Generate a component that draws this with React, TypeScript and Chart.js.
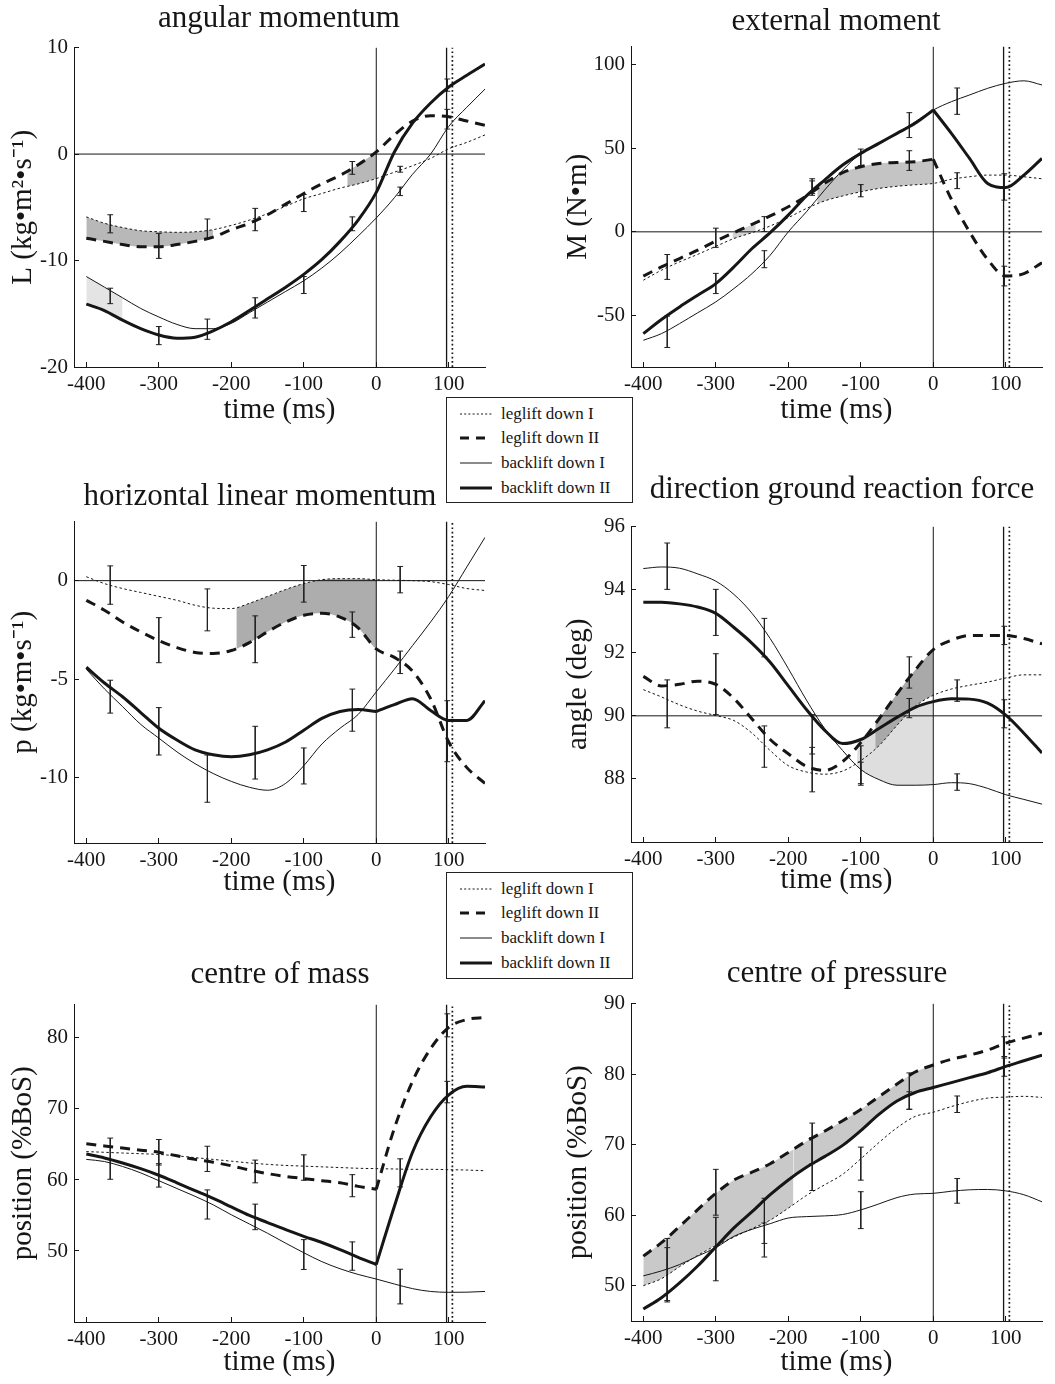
import React, { useEffect, useRef } from "react";
import { Chart, registerables } from "chart.js";

Chart.register(...registerables);

// ---------------- data ----------------
const TIME = [-400, -375, -350, -325, -300, -275, -250, -225, -200, -175, -150, -125, -100, -75, -50, -25, 0, 25, 50, 75, 100, 125, 150];
const X_TICKS = [-400, -300, -200, -100, 0, 100];
const X_MIN = -417;
const X_MAX = 150;
const ERR_TIME = [-367, -300, -233, -167, -100, -33, 33, 98];
const EVENT_TOUCH = 0;
const EVENT_SOLID = 97;
const EVENT_DOTTED = 105;
const LEGEND_LABELS = ["leglift down I", "leglift down II", "backlift down I", "backlift down II"];

// angular momentum
const P1_Y_TICKS = [-20, -10, 0, 10];
const P1_LEG_I = [-5.9, -6.5, -6.9, -7.2, -7.3, -7.35, -7.3, -7.1, -6.7, -6.2, -5.6, -4.9, -4.2, -3.7, -3.2, -2.8, -2.3, -1.7, -1.1, -0.4, 0.5, 1.1, 1.8];
const P1_LEG_II = [-7.9, -8.2, -8.5, -8.7, -8.7, -8.5, -8.2, -7.8, -7.1, -6.5, -5.7, -4.7, -3.7, -2.8, -2.0, -1.0, 0.2, 1.8, 3.1, 3.6, 3.5, 3.1, 2.7];
const P1_BACK_I = [-11.5, -12.5, -13.5, -14.5, -15.3, -16.0, -16.4, -16.4, -15.9, -14.9, -13.9, -12.9, -11.9, -10.7, -9.3, -7.7, -6.0, -4.1, -1.9, 0.0, 2.6, 4.4, 6.1];
const P1_BACK_II = [-14.1, -14.7, -15.6, -16.4, -17.0, -17.3, -17.2, -16.6, -15.75, -14.7, -13.6, -12.5, -11.3, -9.9, -8.2, -6.2, -3.6, 0.2, 2.9, 4.8, 6.3, 7.4, 8.45];
const P1_ERR_LEG_HI = [-5.7, -7.45, -6.1, -5.1, -3.8, -0.7, -1.15, 4.2];
const P1_ERR_LEG_LO = [-7.4, -9.8, -7.9, -7.2, -5.4, -1.9, -1.7, 2.35];
const P1_ERR_BACK_HI = [-12.6, -16.2, -15.5, -13.5, -11.5, -5.9, -3.1, 7.05];
const P1_ERR_BACK_LO = [-14.05, -17.9, -17.4, -15.4, -13.1, -7.2, -3.9, 5.9];
const P1_SHADE_A_X = [-400, -375, -350, -325, -300, -275, -250, -225];
const P1_SHADE_A_Y = [-5.9, -6.5, -6.9, -7.2, -7.3, -7.35, -7.3, -7.1];
const P1_SHADE_B_X = [-40, -25, 0];
const P1_SHADE_B_Y = [-1.6, -1.0, 0.2];
const P1_SHADE_C_X = [-400, -375, -350];
const P1_SHADE_C_Y = [-11.5, -12.5, -13.5];

// external moment
const P2_Y_TICKS = [-50, 0, 50, 100];
const P2_LEG_I = [-29, -23, -18, -13.5, -8.7, -4, -0.5, 3.5, 8.5, 14, 18.5, 21.5, 24, 26, 27.3, 28.2, 29, 31.5, 33, 34, 34, 33, 31.8];
const P2_LEG_II = [-26.5, -21, -16, -11, -5.5, -0.5, 4.5, 9.5, 15, 21.5, 29, 35.5, 39, 41, 41.5, 42, 43.5, 19.5, 0, -16.5, -26.5, -25, -18.5];
const P2_BACK_I = [-65, -61, -55, -48.5, -42, -34, -25, -14, 0, 12, 25, 37, 47, 53, 59, 66, 73, 78, 82, 86, 89, 90.5, 88];
const P2_BACK_II = [-61, -52.5, -45, -38, -31, -21, -10, -0.5, 10, 21.5, 31, 40, 47, 53, 59, 65, 73, 59, 44, 29, 26.5, 34, 44];
const P2_ERR_LEG_HI = [-13.6, 2.2, 9.1, 31.8, 28.3, 48.6, 35.4, -20.6];
const P2_ERR_LEG_LO = [-28.5, -9.3, 0.2, 21.9, 21, 36.8, 25.9, -32.4];
const P2_ERR_BACK_HI = [-50.5, -24.9, -11.3, 30.5, 49.6, 71.4, 86.2, 34.8];
const P2_ERR_BACK_LO = [-69.3, -37, -21.5, 23, 39.7, 56.5, 70.4, 19];
const P2_SHADE_A_X = [-277, -262, -245];
const P2_SHADE_A_Y = [-1.0, 2.0, 5.5];
const P2_SHADE_B_X = [-160, -150, -125, -100, -75, -50, -25, 0];
const P2_SHADE_B_Y = [26.5, 29, 35.5, 39, 41, 41.5, 42, 43.5];

// horizontal linear momentum
const P3_Y_TICKS = [-10, -5, 0];
const P3_LEG_I = [0.2, -0.15, -0.4, -0.6, -0.8, -1.0, -1.25, -1.4, -1.42, -1.15, -0.8, -0.45, -0.15, 0.05, 0.1, 0.1, 0.05, 0.02, 0.0, -0.05, -0.2, -0.4, -0.5];
const P3_LEG_II = [-1.0, -1.5, -2.1, -2.6, -3.05, -3.4, -3.65, -3.7, -3.55, -3.15, -2.6, -2.1, -1.76, -1.66, -1.85, -2.4, -3.47, -3.9, -4.6, -6.0, -8.2, -9.5, -10.3];
const P3_BACK_I = [-4.5, -5.5, -6.4, -7.3, -8.0, -8.7, -9.3, -9.8, -10.2, -10.5, -10.65, -10.3, -9.4, -8.3, -7.5, -6.8, -5.65, -4.5, -3.3, -2.1, -0.8, 0.7, 2.2];
const P3_BACK_II = [-4.4, -5.2, -5.9, -6.7, -7.5, -8.1, -8.6, -8.85, -8.95, -8.85, -8.6, -8.2, -7.6, -7.0, -6.65, -6.55, -6.65, -6.3, -6.0, -6.6, -7.1, -7.1, -6.1];
const P3_ERR_LEG_HI = [0.75, -1.88, -0.42, -1.79, 0.77, -1.59, 0.72, -6.1];
const P3_ERR_LEG_LO = [-1.2, -4.17, -2.55, -4.17, -1.09, -2.88, -0.62, -9.2];
const P3_ERR_BACK_HI = [-5.06, -6.45, -8.86, -7.4, -8.5, -5.51, -3.58, null];
const P3_ERR_BACK_LO = [-6.73, -8.86, -11.26, -10.08, -10.33, -7.65, -4.72, null];
const P3_SHADE_X = [-193, -175, -150, -125, -100, -75, -50, -25, 0];
const P3_SHADE_Y = [-1.4, -1.15, -0.8, -0.45, -0.15, 0.05, 0.1, 0.1, 0.05];

// direction ground reaction force
const P4_Y_TICKS = [88, 90, 92, 94, 96];
const P4_LEG_I = [90.83, 90.6, 90.35, 90.15, 90.01, 89.85, 89.45, 88.9, 88.42, 88.22, 88.15, 88.25, 88.58, 89.05, 89.7, 90.3, 90.65, 90.85, 90.97, 91.07, 91.2, 91.3, 91.3];
const P4_LEG_II = [91.25, 90.95, 91.0, 91.1, 91.0, 90.55, 89.9, 89.25, 88.8, 88.4, 88.27, 88.55, 89.15, 89.9, 90.7, 91.45, 92.1, 92.4, 92.55, 92.55, 92.55, 92.45, 92.28];
const P4_BACK_I = [94.67, 94.72, 94.68, 94.5, 94.27, 93.85, 93.25, 92.45, 91.5, 90.5, 89.6, 88.9, 88.3, 87.98, 87.8, 87.8, 87.82, 87.88, 87.85, 87.7, 87.5, 87.35, 87.2];
const P4_BACK_II = [93.6, 93.6, 93.55, 93.45, 93.25, 92.8, 92.3, 91.7, 90.95, 90.2, 89.55, 89.12, 89.25, 89.6, 89.95, 90.27, 90.45, 90.54, 90.53, 90.4, 90.02, 89.45, 88.82];
const P4_ERR_LEG_HI = [91.14, 91.97, 89.68, 89.0, 88.53, 91.87, 91.14, 92.84];
const P4_ERR_LEG_LO = [89.62, 90.04, 88.37, 87.59, 87.8, 90.88, 90.46, 92.26];
const P4_ERR_BACK_HI = [95.48, 94.01, 93.09, 90.04, 89.05, 90.55, 88.16, 90.51];
const P4_ERR_BACK_LO = [94.01, 92.55, 91.87, 88.79, 87.85, 89.94, 87.64, 89.62];
const P4_SHADE_LIGHT_X = [-105, -100, -75, -50, -25, 0];
const P4_SHADE_LIGHT_Y = [89.22, 89.25, 89.6, 89.95, 90.27, 90.45];
const P4_SHADE_DARK_X = [-80, -75, -50, -25, 0];
const P4_SHADE_DARK_Y = [89.75, 89.9, 90.7, 91.45, 92.1];

// centre of mass
const P5_Y_TICKS = [50, 60, 70, 80];
const P5_LEG_I = [64.0, 63.9, 63.8, 63.7, 63.6, 63.4, 63.15, 62.9, 62.65, 62.4, 62.2, 62.05, 61.95, 61.85, 61.75, 61.65, 61.6, 61.55, 61.5, 61.5, 61.45, 61.4, 61.3];
const P5_LEG_II = [65.1, 64.8, 64.5, 64.2, 63.9, 63.4, 62.9, 62.5, 62.0, 61.4, 60.9, 60.5, 60.2, 59.9, 59.6, 59.1, 58.7, 67.3, 73.9, 78.5, 81.5, 82.6, 82.9];
const P5_BACK_I = [62.9, 62.6, 61.9, 61.0, 59.9, 58.8, 57.7, 56.5, 55.1, 53.8, 52.5, 51.1, 49.75, 48.5, 47.5, 46.7, 46.05, 45.35, 44.7, 44.3, 44.18, 44.2, 44.3];
const P5_BACK_II = [63.65, 63.1, 62.4, 61.6, 60.67, 59.6, 58.5, 57.4, 56.2, 55.0, 54.0, 53.0, 52.07, 51.2, 50.2, 49.1, 48.1, 56.3, 63.9, 68.9, 72.0, 73.2, 73.1];
const P5_ERR_LEG_HI = [65.9, 65.7, 64.75, 62.8, 63.54, 60.75, 62.98, 83.4];
const P5_ERR_LEG_LO = [60.1, 62.1, 61.2, 59.6, 59.96, 57.64, 59.03, 80.16];
const P5_ERR_BACK_HI = [null, 62.3, 58.6, 56.6, 51.6, 51.28, 47.43, 73.89];
const P5_ERR_BACK_LO = [null, 59.0, 54.5, 53.0, 47.4, 47.29, 42.55, 70.87];

// centre of pressure
const P6_Y_TICKS = [50, 60, 70, 80, 90];
const P6_LEG_I = [50.0, 51.0, 52.7, 54.3, 55.7, 56.9, 58.1, 59.3, 61.0, 62.8, 64.3, 65.8, 68.0, 70.3, 72.4, 74.0, 74.6, 75.4, 76.1, 76.6, 76.75, 76.85, 76.7];
const P6_LEG_II = [54.2, 56.1, 58.4, 60.8, 63.1, 65.0, 66.1, 67.3, 68.9, 70.5, 71.9, 73.4, 75.0, 76.8, 78.6, 80.3, 81.3, 82.1, 82.7, 83.4, 84.4, 85.1, 85.8];
const P6_BACK_I = [51.4, 52.1, 53.0, 54.2, 55.4, 57.0, 58.0, 58.8, 59.6, 59.8, 59.9, 60.1, 60.75, 61.6, 62.5, 63.0, 63.1, 63.4, 63.6, 63.65, 63.45, 62.9, 61.9];
const P6_BACK_II = [46.7, 48.3, 50.4, 52.8, 55.5, 58.2, 60.5, 62.9, 65.0, 66.8, 68.3, 69.9, 72.0, 74.3, 76.2, 77.4, 78.1, 78.8, 79.5, 80.2, 81.1, 81.9, 82.7];
const P6_ERR_LEG_HI = [56.7, 66.5, 62.4, 73.06, 69.65, 80.17, 76.9, 85.3];
const P6_ERR_LEG_LO = [47.9, 60.0, 56.0, 67.3, 64.97, 75.03, 74.56, 82.28];
const P6_ERR_BACK_HI = [55.4, 59.7, 58.9, 71.0, 63.33, 77.5, 65.2, 82.5];
const P6_ERR_BACK_LO = [47.7, 50.7, 54.07, 63.5, 58.1, 75.0, 61.7, 79.7];
const P6_SHADE_A_X = [-400, -375, -350, -325, -300, -275, -250, -225, -200, -193];
const P6_SHADE_A_Y = [54.2, 56.1, 58.4, 60.8, 63.1, 65.0, 66.1, 67.3, 68.9, 69.3];
const P6_SHADE_B_X = [-193, -175, -150, -125, -100, -75, -50, -25, 0];
const P6_SHADE_B_Y = [69.3, 70.5, 71.9, 73.4, 75.0, 76.8, 78.6, 80.3, 81.3];

// ---------------- styling / layout ----------------
const FONT = "'Liberation Serif', 'Times New Roman', Times, serif";
const INK = "#161616";
const CAP = 4; // half width of error bar caps, ms
const SHADE_MID = "#b8b8b8";
const SHADE_LIGHT = "#e4e4e4";
const TICK_SIZE = 21;
const AXIS_TITLE_SIZE = 29;

const STYLE: any = {
  legI: { borderWidth: 1, borderDash: [2.5, 2.5] },
  legII: { borderWidth: 3, borderDash: [10, 7] },
  backI: { borderWidth: 1, borderDash: [] },
  backII: { borderWidth: 3, borderDash: [] },
};
const LEGEND_STYLE = [
  { w: 1, dash: "2 2.2" },
  { w: 3, dash: "9 7" },
  { w: 1, dash: "" },
  { w: 3, dash: "" },
];

const HALF_TITLE = AXIS_TITLE_SIZE / 2;
const COLS = [
  { canvasLeft: 0, width: 495, yAxisWidth: 74, yTitlePad: 23 - HALF_TITLE },
  { canvasLeft: 560, width: 492, yAxisWidth: 71, yTitlePad: 18 - HALF_TITLE },
];
const PAD_TOP = 20;
const PAD_RIGHT = 10;
const X_AXIS_H = 62;

const PANELS: any[] = [
  {
    id: 1, title: "angular momentum", yLabel: "L (kg\u2022m\u00b2\u2022s\u207b\u00b9)", col: 0,
    areaTop: 44, areaBottom: 367, yMin: -20, yMax: 10, yTicks: P1_Y_TICKS,
    titleX: 279, titleBase: 27, xTitleOffset: 43, hLine: 0,
    series: { legI: P1_LEG_I, legII: P1_LEG_II, backI: P1_BACK_I, backII: P1_BACK_II }, kinks: {},
    err: [[P1_ERR_LEG_HI, P1_ERR_LEG_LO], [P1_ERR_BACK_HI, P1_ERR_BACK_LO]],
    shades: [
      { x: P1_SHADE_C_X, y: P1_SHADE_C_Y, target: "backII", color: SHADE_LIGHT, layer: 21 },
      { x: P1_SHADE_A_X, y: P1_SHADE_A_Y, target: "legII", color: SHADE_MID, layer: 20 },
      { x: P1_SHADE_B_X, y: P1_SHADE_B_Y, target: "legI", color: SHADE_MID, layer: 20 },
    ],
  },
  {
    id: 2, title: "external moment", yLabel: "M (N\u2022m)", col: 1,
    areaTop: 43, areaBottom: 367, yMin: -81, yMax: 111, yTicks: P2_Y_TICKS,
    titleX: 836, titleBase: 30, xTitleOffset: 43, hLine: 0,
    series: { legI: P2_LEG_I, legII: P2_LEG_II, backI: P2_BACK_I, backII: P2_BACK_II },
    kinks: { legII: [0], backII: [0] },
    err: [[P2_ERR_LEG_HI, P2_ERR_LEG_LO], [P2_ERR_BACK_HI, P2_ERR_BACK_LO]],
    shades: [
      { x: P2_SHADE_A_X, y: P2_SHADE_A_Y, target: "legI", color: "#d2d2d2", layer: 20 },
      { x: P2_SHADE_B_X, y: P2_SHADE_B_Y, target: "legI", color: "#c4c4c4", layer: 20 },
    ],
  },
  {
    id: 3, title: "horizontal linear momentum", yLabel: "p (kg\u2022m\u2022s\u207b\u00b9)", col: 0,
    areaTop: 518, areaBottom: 843, yMin: -13.33, yMax: 3.0, yTicks: P3_Y_TICKS,
    titleX: 260, titleBase: 505, xTitleOffset: 39, hLine: 0,
    series: { legI: P3_LEG_I, legII: P3_LEG_II, backI: P3_BACK_I, backII: P3_BACK_II },
    kinks: { backII: [0] },
    err: [[P3_ERR_LEG_HI, P3_ERR_LEG_LO], [P3_ERR_BACK_HI, P3_ERR_BACK_LO]],
    shades: [{ x: P3_SHADE_X, y: P3_SHADE_Y, target: "legII", color: "#adadad", layer: 20 }],
  },
  {
    id: 4, title: "direction ground reaction force", yLabel: "angle (deg)", col: 1,
    areaTop: 523, areaBottom: 842, yMin: 86, yMax: 96, yTicks: P4_Y_TICKS,
    titleX: 842, titleBase: 498, xTitleOffset: 38, hLine: 90,
    series: { legI: P4_LEG_I, legII: P4_LEG_II, backI: P4_BACK_I, backII: P4_BACK_II }, kinks: {},
    err: [[P4_ERR_LEG_HI, P4_ERR_LEG_LO], [P4_ERR_BACK_HI, P4_ERR_BACK_LO]],
    shades: [
      { x: P4_SHADE_LIGHT_X, y: P4_SHADE_LIGHT_Y, target: "backI", color: "#dedede", layer: 21 },
      { x: P4_SHADE_DARK_X, y: P4_SHADE_DARK_Y, target: "legI", color: "#a9a9a9", layer: 20 },
    ],
  },
  {
    id: 5, title: "centre of mass", yLabel: "position (%BoS)", col: 0,
    areaTop: 1001, areaBottom: 1322, yMin: 40, yMax: 84.7, yTicks: P5_Y_TICKS,
    titleX: 280, titleBase: 983, xTitleOffset: 40, hLine: null,
    series: { legI: P5_LEG_I, legII: P5_LEG_II, backI: P5_BACK_I, backII: P5_BACK_II },
    kinks: { legII: [0], backII: [0] },
    err: [[P5_ERR_LEG_HI, P5_ERR_LEG_LO], [P5_ERR_BACK_HI, P5_ERR_BACK_LO]],
    shades: [],
  },
  {
    id: 6, title: "centre of pressure", yLabel: "position (%BoS)", col: 1,
    areaTop: 1000, areaBottom: 1321, yMin: 45, yMax: 90, yTicks: P6_Y_TICKS,
    titleX: 837, titleBase: 982, xTitleOffset: 41, hLine: null,
    series: { legI: P6_LEG_I, legII: P6_LEG_II, backI: P6_BACK_I, backII: P6_BACK_II }, kinks: {},
    err: [[P6_ERR_LEG_HI, P6_ERR_LEG_LO], [P6_ERR_BACK_HI, P6_ERR_BACK_LO]],
    shades: [
      { x: P6_SHADE_A_X, y: P6_SHADE_A_Y, target: "legI", color: "#c9c9c9", layer: 20 },
      { x: P6_SHADE_B_X, y: P6_SHADE_B_Y, target: "backII", color: "#c9c9c9", layer: 20 },
    ],
  },
];

function axisLines() {
  return {
    grid: { display: true, drawOnChartArea: false, drawTicks: true, tickLength: -5, color: INK, lineWidth: 1 },
    border: { display: true, color: INK, width: 1 },
  };
}

function makeConfig(p: any) {
  const col = COLS[p.col];
  const datasets: any[] = [];
  const segs: any = {};

  ["backII", "backI", "legII", "legI"].forEach((key) => {
    const vals = p.series[key];
    const cuts = p.kinks[key] || [];
    const bounds = [TIME[0], ...cuts, TIME[TIME.length - 1]];
    segs[key] = [];
    for (let s = 0; s < bounds.length - 1; s++) {
      const lo = bounds[s];
      const hi = bounds[s + 1];
      const data: any[] = [];
      TIME.forEach((t, i) => {
        if (t >= lo && t <= hi) data.push({ x: t, y: vals[i] });
      });
      segs[key].push({ lo, hi, index: datasets.length });
      datasets.push({
        data,
        borderColor: INK,
        ...STYLE[key],
        pointRadius: 0,
        fill: false,
        cubicInterpolationMode: "monotone",
        order: 1,
      });
    }
  });

  // error bars
  const eb: any[] = [];
  ERR_TIME.forEach((t, i) => {
    p.err.forEach(([hiArr, loArr]: any) => {
      const hi = hiArr[i];
      const lo = loArr[i];
      if (hi == null || lo == null) return;
      eb.push(
        { x: t - CAP, y: hi }, { x: t + CAP, y: hi }, { x: t, y: null },
        { x: t, y: hi }, { x: t, y: lo }, { x: t, y: null },
        { x: t - CAP, y: lo }, { x: t + CAP, y: lo }, { x: t, y: null }
      );
    });
  });
  datasets.push({ data: eb, borderColor: "#222", borderWidth: 1, pointRadius: 0, spanGaps: false, fill: false, order: 2 });

  // event lines
  const vline = (x: number, w: number, dash: number[]) => ({
    data: [{ x, y: p.yMin }, { x, y: p.yMax }],
    borderColor: INK, borderWidth: w, borderDash: dash, pointRadius: 0, fill: false, order: 3,
  });
  datasets.push(vline(EVENT_TOUCH, 1, []));
  datasets.push(vline(EVENT_SOLID, 1.3, []));
  datasets.push(vline(EVENT_DOTTED, 1.7, [1.7, 2.6]));
  if (p.hLine != null) {
    datasets.push({
      data: [{ x: X_MIN, y: p.hLine }, { x: X_MAX, y: p.hLine }],
      borderColor: INK, borderWidth: 1, pointRadius: 0, fill: false, order: 3,
    });
  }

  // shaded regions: filled from a boundary line to a series dataset
  p.shades.forEach((sh: any) => {
    const x0 = sh.x[0];
    const x1 = sh.x[sh.x.length - 1];
    const seg = segs[sh.target].find((s: any) => s.lo <= x0 && s.hi >= x1) || segs[sh.target][0];
    datasets.push({
      data: sh.x.map((x: number, i: number) => ({ x, y: sh.y[i] })),
      borderColor: "rgba(0,0,0,0)",
      borderWidth: 0,
      backgroundColor: sh.color,
      pointRadius: 0,
      cubicInterpolationMode: "monotone",
      fill: seg.index,
      order: sh.layer,
    });
  });

  const tickFont = { family: FONT, size: TICK_SIZE };
  const titleFont = { family: FONT, size: AXIS_TITLE_SIZE, lineHeight: 1 };
  const tickHalf = (TICK_SIZE * 1.2) / 2;

  return {
    type: "line",
    data: { datasets },
    options: {
      responsive: false,
      animation: false,
      events: [],
      devicePixelRatio: 1,
      layout: { padding: { top: PAD_TOP, right: PAD_RIGHT, bottom: 0, left: 0 } },
      plugins: {
        legend: { display: false },
        tooltip: { enabled: false },
        title: { display: false },
      },
      elements: { point: { radius: 0 }, line: { borderCapStyle: "butt", borderJoinStyle: "round" } },
      scales: {
        x: {
          type: "linear",
          position: "bottom",
          min: X_MIN,
          max: X_MAX,
          ...axisLines(),
          afterBuildTicks: (s: any) => {
            s.ticks = X_TICKS.map((v) => ({ value: v }));
          },
          afterFit: (s: any) => {
            s.height = X_AXIS_H;
          },
          ticks: {
            color: INK, font: tickFont, padding: 17.5 + 5 - tickHalf, maxRotation: 0, minRotation: 0, autoSkip: false,
            callback: (v: any) => String(v),
          },
          title: {
            display: true, text: "time (ms)", color: INK, font: titleFont,
            padding: { top: 0, bottom: X_AXIS_H - p.xTitleOffset - HALF_TITLE },
          },
        },
        y: {
          type: "linear",
          position: "left",
          min: p.yMin,
          max: p.yMax,
          ...axisLines(),
          afterBuildTicks: (s: any) => {
            s.ticks = p.yTicks.map((v: number) => ({ value: v }));
          },
          afterFit: (s: any) => {
            s.width = col.yAxisWidth;
          },
          ticks: { color: INK, font: tickFont, padding: 11, autoSkip: false, callback: (v: any) => String(v) },
          title: {
            display: true, text: p.yLabel, color: INK, font: titleFont,
            padding: { top: col.yTitlePad, bottom: 0 },
          },
        },
      },
    },
  };
}

function Panel({ p }: { p: any }) {
  const ref = useRef<HTMLCanvasElement | null>(null);
  const col = COLS[p.col];
  const top = p.areaTop - PAD_TOP;
  const height = p.areaBottom - p.areaTop + PAD_TOP + X_AXIS_H;
  useEffect(() => {
    if (!ref.current) return;
    const chart = new Chart(ref.current, makeConfig(p) as any);
    return () => chart.destroy();
  }, [p]);
  return (
    <canvas
      ref={ref}
      width={col.width}
      height={height}
      style={{ position: "absolute", left: col.canvasLeft, top, width: col.width, height }}
    />
  );
}

const LEGEND_ROWS = [17, 41, 66, 91];

function Legend({ top, height }: { top: number; height: number }) {
  return (
    <div
      style={{
        position: "absolute", left: 446, top, width: 187, height, boxSizing: "border-box",
        border: "1px solid #222", background: "#fff", fontFamily: FONT, fontSize: 17, color: INK,
      }}
    >
      {LEGEND_LABELS.map((label, i) => (
        <div
          key={label}
          style={{
            position: "absolute", left: 0, top: LEGEND_ROWS[i] - 12, height: 22,
            display: "flex", alignItems: "center", whiteSpace: "nowrap",
          }}
        >
          <svg width={32} height={8} style={{ marginLeft: 13, display: "block" }}>
            <line
              x1={0} y1={4} x2={32} y2={4} stroke={INK}
              strokeWidth={LEGEND_STYLE[i].w}
              strokeDasharray={LEGEND_STYLE[i].dash || undefined}
            />
          </svg>
          <span style={{ marginLeft: 9, lineHeight: "22px" }}>{label}</span>
        </div>
      ))}
    </div>
  );
}

export default function App() {
  return (
    <div style={{ position: "absolute", left: 0, top: 0, width: 1055, height: 1384, background: "#fff", overflow: "hidden" }}>
      {PANELS.map((p) => (
        <Panel key={p.id} p={p} />
      ))}
      {PANELS.map((p) => (
        <div
          key={"t" + p.id}
          style={{
            position: "absolute", left: p.titleX - 300, top: p.titleBase - 26, width: 600,
            textAlign: "center", fontFamily: FONT, fontSize: 31, lineHeight: "31px",
            color: INK, whiteSpace: "nowrap",
          }}
        >
          {p.title}
        </div>
      ))}
      <Legend top={397} height={106} />
      <Legend top={872} height={107} />
    </div>
  );
}
